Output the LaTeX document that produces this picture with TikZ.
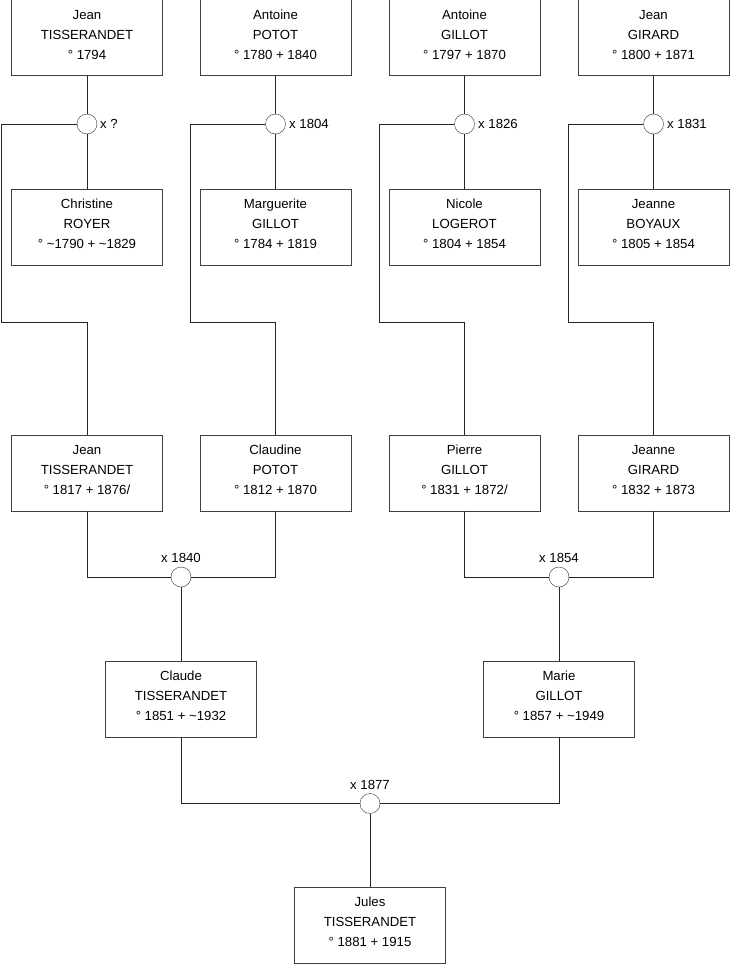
\documentclass[tikz,border=0pt]{standalone}
\usepackage{fontspec}
\setmainfont{Liberation Sans}
\begin{document}
\begin{tikzpicture}[x=1pt,y=-1pt,
  person/.style={draw=black!75, fill=white, minimum width=151pt, minimum height=76pt, inner sep=0pt, align=center, font=\fontsize{13.2}{20}\selectfont, execute at begin node=\strut, execute at end node=\strut},
  wed/.style={circle, draw=black!80, fill=white, minimum size=20pt, inner sep=0pt},
  wlab/.style={font=\fontsize{13.2}{15}\selectfont, inner sep=0pt},
  link/.style={draw=black!85, line width=0.8pt}]
\useasboundingbox (0,0) rectangle (740,975);
% row 1
\node[person] (p1) at (87,37.5) {Jean\\TISSERANDET\\° 1794};
\node[person] (p2) at (275.5,37.5) {Antoine\\POTOT\\° 1780 + 1840};
\node[person] (p3) at (464.5,37.5) {Antoine\\GILLOT\\° 1797 + 1870};
\node[person] (p4) at (653.5,37.5) {Jean\\GIRARD\\° 1800 + 1871};
% circles row 1
\node[wed] (w1) at (87,124) {};
\node[wed] (w2) at (275.5,124) {};
\node[wed] (w3) at (464.5,124) {};
\node[wed] (w4) at (653.5,124) {};
\node[wlab, anchor=west] (l1) at (100,124) {x ?};
\node[wlab, anchor=west] (l2) at (289,124) {x 1804};
\node[wlab, anchor=west] (l3) at (478,124) {x 1826};
\node[wlab, anchor=west] (l4) at (667,124) {x 1831};
% row 2
\node[person] (s1) at (87,227) {Christine\\ROYER\\° \textasciitilde1790 + \textasciitilde1829};
\node[person] (s2) at (275.5,227) {Marguerite\\GILLOT\\° 1784 + 1819};
\node[person] (s3) at (464.5,227) {Nicole\\LOGEROT\\° 1804 + 1854};
\node[person] (s4) at (653.5,227) {Jeanne\\BOYAUX\\° 1805 + 1854};
% row 3
\node[person] (c1) at (87,473) {Jean\\TISSERANDET\\° 1817 + 1876/};
\node[person] (c2) at (275.5,473) {Claudine\\POTOT\\° 1812 + 1870};
\node[person] (c3) at (464.5,473) {Pierre\\GILLOT\\° 1831 + 1872/};
\node[person] (c4) at (653.5,473) {Jeanne\\GIRARD\\° 1832 + 1873};
% marriages row 3
\node[wed] (m1) at (181,577) {};
\node[wed] (m2) at (559,577) {};
\node[wlab] (lm1) at (181,558) {x 1840};
\node[wlab] (lm2) at (559,558) {x 1854};
% row 4
\node[person] (g1) at (181,699) {Claude\\TISSERANDET\\° 1851 + \textasciitilde1932};
\node[person] (g2) at (559,699) {Marie\\GILLOT\\° 1857 + \textasciitilde1949};
\node[wed] (m3) at (370,803.5) {};
\node[wlab] (lm3) at (370,785) {x 1877};
% row 5
\node[person] (j) at (370,925) {Jules\\TISSERANDET\\° 1881 + 1915};
% coordinates for branches
\coordinate (a1) at (1.5,124); \coordinate (b1) at (1.5,322);
\coordinate (a2) at (190.5,124); \coordinate (b2) at (190.5,322);
\coordinate (a3) at (379.5,124); \coordinate (b3) at (379.5,322);
\coordinate (a4) at (568.5,124); \coordinate (b4) at (568.5,322);
% connectors
\foreach \i in {1,2,3,4} {
  \draw[link] (p\i.south) -- (w\i.north);
  \draw[link] (w\i.south) -- (s\i.north);
  \draw[link] (w\i.west) -- (a\i) -- (b\i) -| (c\i.north);
}
\draw[link] (c1.south) |- (m1.west);
\draw[link] (c2.south) |- (m1.east);
\draw[link] (c3.south) |- (m2.west);
\draw[link] (c4.south) |- (m2.east);
\draw[link] (m1.south) -- (g1.north);
\draw[link] (m2.south) -- (g2.north);
\draw[link] (g1.south) |- (m3.west);
\draw[link] (g2.south) |- (m3.east);
\draw[link] (m3.south) -- (j.north);
\end{tikzpicture}
\end{document}
